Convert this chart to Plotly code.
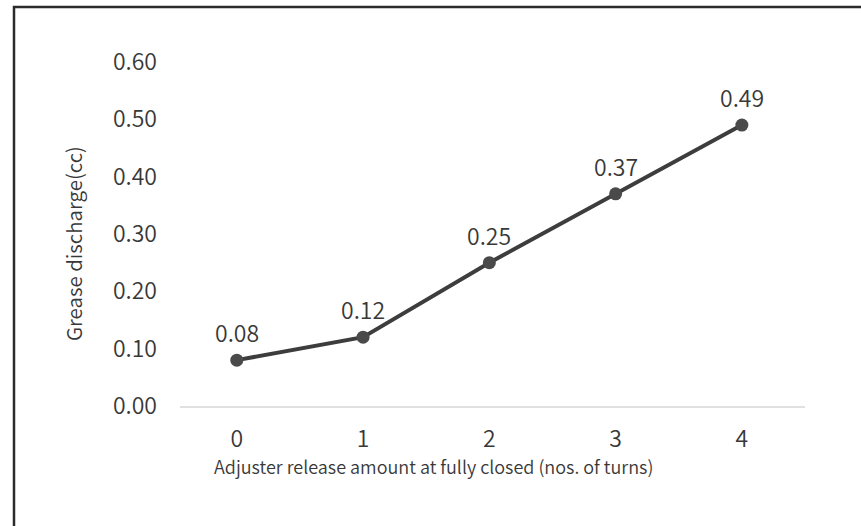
import plotly.graph_objects as go

turns = [0, 1, 2, 3, 4]
discharge = [0.08, 0.12, 0.25, 0.37, 0.49]
labels = ["0.08", "0.12", "0.25", "0.37", "0.49"]
y_ticks = [0.0, 0.1, 0.2, 0.3, 0.4, 0.5, 0.6]
y_ticktext = ["0.00", "0.10", "0.20", "0.30", "0.40", "0.50", "0.60"]
x_title = "Adjuster release amount at fully closed (nos. of turns)"
y_title = "Grease discharge(cc)"

W, H = 861, 526
L, R, T, B = 180, 56, 62, 120
pw = W - L - R
ph = H - T - B

FONT = "Noto Sans CJK KR"
TXT = "#383838"
NUM_SIZE = 23
WEIGHT = 350


def px_to_paper_x(px):
    return (px - L) / pw


def px_to_paper_y(py):
    return 1 - (py - T) / ph


fig = go.Figure()
fig.add_trace(go.Scatter(
    x=turns, y=discharge, mode="lines+markers",
    line=dict(color="#3d3d3d", width=4),
    marker=dict(color="#4a4a4a", size=13),
    cliponaxis=False, showlegend=False, hoverinfo="skip",
))

annotations = [
    dict(x=xv, y=yv, xref="x", yref="y", text=lab, showarrow=False,
         xanchor="center", yanchor="middle", yshift=28,
         font=dict(family=FONT, size=NUM_SIZE, color=TXT, weight=WEIGHT))
    for xv, yv, lab in zip(turns, discharge, labels)
]
annotations += [
    dict(text=x_title, xref="paper", yref="paper",
         x=px_to_paper_x(433), y=px_to_paper_y(466),
         xanchor="center", yanchor="middle", showarrow=False,
         font=dict(family=FONT, size=18, color=TXT, weight=WEIGHT)),
    dict(text=y_title, xref="paper", yref="paper",
         x=px_to_paper_x(73), y=px_to_paper_y(244),
         xanchor="center", yanchor="middle", showarrow=False, textangle=-90,
         font=dict(family=FONT, size=20.5, color=TXT, weight=WEIGHT)),
]

fig.update_layout(
    width=W, height=H,
    margin=dict(l=L, r=R, t=T, b=B),
    paper_bgcolor="white", plot_bgcolor="white",
    font=dict(family=FONT, size=NUM_SIZE, color=TXT, weight=WEIGHT),
    xaxis=dict(
        range=[-0.45, 4.5], tickvals=turns, ticktext=[str(t) for t in turns],
        showgrid=False, zeroline=False, showline=True,
        linecolor="#e0e0e0", linewidth=2, ticks="", ticklabelstandoff=11,
        tickfont=dict(family=FONT, size=NUM_SIZE, color=TXT, weight=WEIGHT),
    ),
    yaxis=dict(
        range=[0, 0.6], tickvals=y_ticks, ticktext=y_ticktext,
        showgrid=False, zeroline=False, showline=False, ticks="",
        ticklabelstandoff=22,
        tickfont=dict(family=FONT, size=NUM_SIZE, color=TXT, weight=WEIGHT),
    ),
    shapes=[
        dict(type="rect", xref="paper", yref="paper",
             x0=px_to_paper_x(14), x1=px_to_paper_x(900),
             y0=px_to_paper_y(600), y1=px_to_paper_y(7),
             line=dict(color="#2b2b2b", width=2.5), fillcolor="rgba(0,0,0,0)"),
    ],
    annotations=annotations,
)

fig.write_html("out.html", config={"displayModeBar": False},
               post_script="document.body.style.margin='0';")
